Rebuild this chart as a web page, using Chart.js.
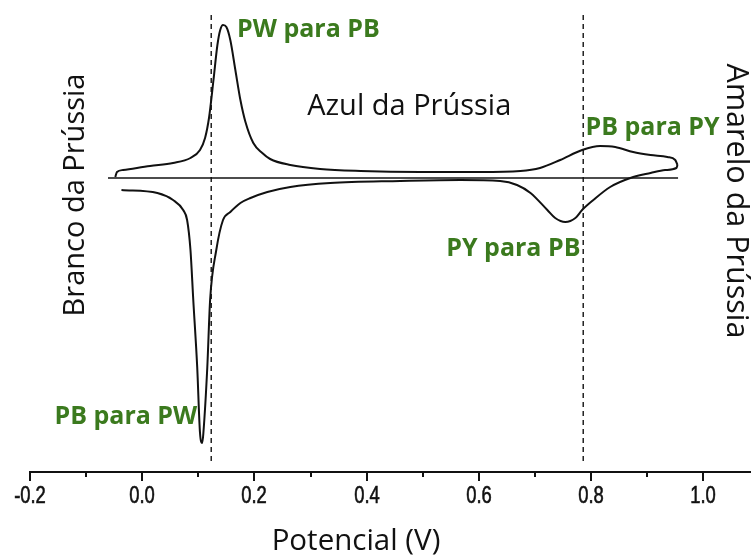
<!DOCTYPE html>
<html>
<head>
<meta charset="utf-8">
<script src="https://cdn.jsdelivr.net/npm/chart.js@4/dist/chart.umd.min.js"></script>
<style>
  html, body { margin: 0; padding: 0; background: #fff; }
  #wrap { width: 751px; height: 556px; }
</style>
</head>
<body>
<div id="wrap"><canvas id="cv" width="751" height="556"></canvas></div>
<script>
// voltammogram of the Prussian blue film, potential in V, current in arbitrary units
var anodicPotential = [-0.048, -0.045, -0.034, 0.014, 0.055, 0.086, 0.103, 0.112, 0.119, 0.127, 0.134, 0.139, 0.144,
  0.150, 0.157, 0.166, 0.175, 0.184, 0.198, 0.214, 0.228, 0.264, 0.317, 0.389, 0.496, 0.602, 0.674, 0.709,
  0.745, 0.784, 0.816, 0.843, 0.875, 0.906, 0.936, 0.950, 0.954];
var anodicCurrent = [1, 6, 8, 12, 15, 20, 28, 40, 60, 98, 133, 148, 153,
  151, 138, 108, 78, 56, 35, 25, 19, 13, 9, 7, 6, 6, 7, 10,
  18, 28, 32, 31, 26, 23, 21, 18, 13];

var cathodicPotential = [0.954, 0.952, 0.932, 0.906, 0.870, 0.834, 0.804, 0.784, 0.772, 0.754, 0.736, 0.722, 0.692,
  0.668, 0.638, 0.567, 0.460, 0.335, 0.264, 0.223, 0.193, 0.175, 0.157, 0.144, 0.132, 0.121, 0.116,
  0.109, 0.107, 0.103, 0.098, 0.091, 0.086, 0.080, 0.073, 0.055, 0.027, -0.037];
var cathodicCurrent = [13, 10, 8, 5, 0, -9, -22, -32, -40, -44, -40, -32, -15,
  -7, -3, -2, -3, -5, -9, -14, -20, -25, -34, -42, -72, -122, -189,
  -255, -265, -255, -189, -122, -72, -42, -32, -22, -15, -12];

// zero-current baseline
var baselinePotential = [-0.061, 0.955];
var baselineCurrent = [0, 0];

// dashed markers at the switching potentials
var switchPotentials = [0.123, 0.786];
var switchCurrentSpan = [-283, 166];

var tickValues = [-0.2, -0.1, 0.0, 0.1, 0.2, 0.3, 0.4, 0.5, 0.6, 0.7, 0.8, 0.9, 1.0];

var greenText = '#3b7a1e';

function pts(xs, ys) {
  return xs.map(function (x, i) { return { x: x, y: ys[i] }; });
}

var datasets = [
  {
    data: pts(anodicPotential, anodicCurrent),
    borderColor: '#111', borderWidth: 2, cubicInterpolationMode: 'monotone'
  },
  {
    data: pts(cathodicPotential, cathodicCurrent),
    borderColor: '#111', borderWidth: 2, cubicInterpolationMode: 'monotone'
  },
  {
    data: pts(baselinePotential, baselineCurrent),
    borderColor: '#111', borderWidth: 1.6, tension: 0
  }
];
switchPotentials.forEach(function (v) {
  datasets.push({
    data: pts([v, v], switchCurrentSpan),
    borderColor: '#222', borderWidth: 1.5, borderDash: [5, 4], tension: 0
  });
});

// text placed in data coordinates
var notes = [
  { text: 'PW para PB', v: 0.169, i: 141, color: greenText, bold: true, size: 25, align: 'left' },
  { text: 'PB para PY', v: 0.790, i: 43, color: greenText, bold: true, size: 25, align: 'left' },
  { text: 'PY para PB', v: 0.781, i: -78, color: greenText, bold: true, size: 25, align: 'right' },
  { text: 'PB para PW', v: 0.098, i: -246, color: greenText, bold: true, size: 25, align: 'right' },
  { text: 'Azul da Prússia', v: 0.294, i: 63, color: '#111', bold: false, size: 29, align: 'left' },
  { text: 'Branco da Prússia', v: -0.103, i: -17, color: '#111', bold: false, size: 29, align: 'center', rot: -90 },
  { text: 'Amarelo da Prússia', v: 1.043, i: -23, color: '#111', bold: false, size: 30.5, align: 'center', rot: 90 }
];

var annotate = {
  id: 'annotate',
  afterDraw: function (chart) {
    var ctx = chart.ctx;
    var xs = chart.scales.x, ys = chart.scales.y;
    ctx.save();

    // tick marks: long at labelled values, short in between; narrow labels under the long ones
    ctx.strokeStyle = '#111';
    ctx.fillStyle = '#111';
    ctx.font = '23px "Liberation Sans", Arial, sans-serif';
    ctx.textAlign = 'center';
    ctx.textBaseline = 'alphabetic';
    xs.ticks.forEach(function (t) {
      var px = Math.round(xs.getPixelForValue(t.value));
      var major = Math.round(t.value * 10) % 2 === 0;
      ctx.lineWidth = 2;
      ctx.beginPath();
      ctx.moveTo(px, xs.top);
      ctx.lineTo(px, xs.top + (major ? 9 : 5));
      ctx.stroke();
      if (major) {
        ctx.save();
        ctx.translate(px, xs.top + 31);
        ctx.scale(0.8, 1);
        ctx.lineWidth = 0.6;
        ctx.fillText(t.value.toFixed(1), 0, 0);
        ctx.strokeText(t.value.toFixed(1), 0, 0);
        ctx.restore();
      }
    });

    notes.forEach(function (n) {
      ctx.save();
      ctx.fillStyle = n.color;
      ctx.font = (n.bold ? 'bold ' : '') + n.size + 'px "Open Sans", sans-serif';
      ctx.textAlign = n.align;
      ctx.textBaseline = 'alphabetic';
      ctx.translate(xs.getPixelForValue(n.v), ys.getPixelForValue(n.i));
      if (n.rot) ctx.rotate(n.rot * Math.PI / 180);
      ctx.fillText(n.text, 0, 0);
      ctx.restore();
    });

    // axis title
    ctx.fillStyle = '#111';
    ctx.font = '29.5px "Open Sans", sans-serif';
    ctx.textAlign = 'center';
    ctx.fillText('Potencial (V)', xs.getPixelForValue(0.381), xs.top + 78);
    ctx.restore();
  }
};

new Chart(document.getElementById('cv'), {
  type: 'scatter',
  data: { datasets: datasets },
  plugins: [annotate],
  options: {
    responsive: false,
    devicePixelRatio: 1,
    animation: false,
    showLine: true,
    elements: { point: { radius: 0, hoverRadius: 0 } },
    layout: { padding: { left: 30, right: 0, top: 0, bottom: 0 } },
    plugins: { legend: { display: false }, tooltip: { enabled: false } },
    scales: {
      x: {
        type: 'linear',
        min: -0.2,
        max: 1.085,
        afterBuildTicks: function (scale) {
          scale.ticks = tickValues.map(function (v) { return { value: v }; });
        },
        afterFit: function (scale) { scale.height = 84; },
        grid: { display: false },
        border: { display: true, color: '#111', width: 2 },
        ticks: { display: false }
      },
      y: {
        type: 'linear',
        display: false,
        min: -294,
        max: 178
      }
    }
  }
});
</script>
</body>
</html>
